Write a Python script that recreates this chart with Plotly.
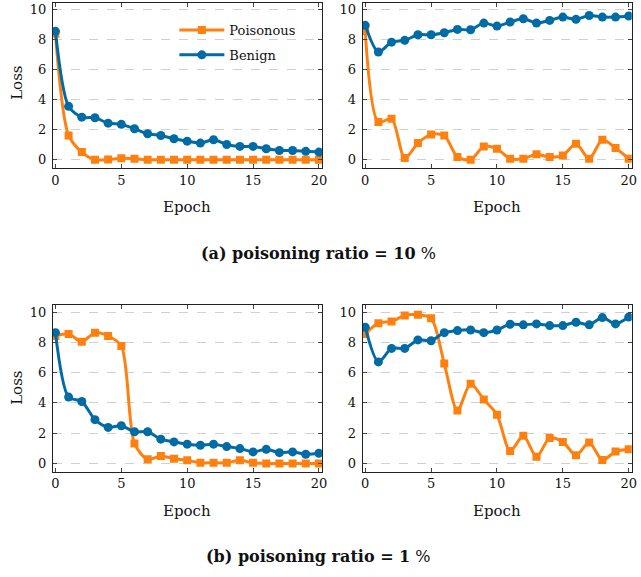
import plotly.graph_objects as go

epochs = list(range(21))

# (a) poisoning ratio = 10 %
a_left_poison = [8.4, 1.62, 0.51, 0.0, 0.02, 0.1, 0.07, 0, 0, 0, 0, 0, 0, 0, 0, 0, 0, 0, 0, 0, 0]
a_left_benign = [8.56, 3.56, 2.84, 2.8, 2.44, 2.36, 2.07, 1.73, 1.62, 1.4, 1.24, 1.11, 1.33, 1.02, 0.89, 0.89, 0.73, 0.62, 0.62, 0.56, 0.51]
a_right_poison = [8.58, 2.51, 2.73, 0.11, 1.11, 1.69, 1.62, 0.18, 0.0, 0.89, 0.73, 0.07, 0.07, 0.36, 0.18, 0.29, 1.07, 0.07, 1.33, 0.78, 0.07]
a_right_benign = [8.96, 7.18, 7.84, 7.96, 8.33, 8.33, 8.47, 8.69, 8.67, 9.11, 8.91, 9.18, 9.4, 9.11, 9.29, 9.51, 9.36, 9.62, 9.51, 9.51, 9.58]

# (b) poisoning ratio = 1 %
b_left_poison = [8.42, 8.56, 8.04, 8.64, 8.42, 7.76, 1.31, 0.27, 0.49, 0.31, 0.2, 0.04, 0.04, 0.04, 0.2, 0.04, 0.0, 0.0, 0.0, 0.0, 0.0]
b_left_benign = [8.64, 4.38, 4.09, 2.89, 2.38, 2.49, 2.09, 2.09, 1.6, 1.42, 1.27, 1.2, 1.27, 1.11, 0.98, 0.76, 0.93, 0.71, 0.76, 0.6, 0.67]
b_right_poison = [8.56, 9.27, 9.38, 9.78, 9.82, 9.6, 6.6, 3.49, 5.27, 4.22, 3.22, 0.82, 1.82, 0.44, 1.67, 1.42, 0.53, 1.38, 0.22, 0.78, 0.93]
b_right_benign = [9.0, 6.71, 7.6, 7.6, 8.16, 8.11, 8.64, 8.78, 8.82, 8.64, 8.82, 9.2, 9.16, 9.22, 9.11, 9.11, 9.33, 9.16, 9.64, 9.22, 9.67]

x_ticks = [0, 5, 10, 15, 20]
y_ticks = [0, 2, 4, 6, 8, 10]
series_names = ["Poisonous", "Benign"]
captions = ["<b>(a) poisoning ratio = 10</b> %", "<b>(b) poisoning ratio = 1</b> %"]

ORANGE = "#FF800E"
BLUE = "#006BA4"
W, H = 641, 577
FONT = "DejaVu Serif"

panels = [
    (a_left_poison, a_left_benign, "x", "y", True),
    (a_right_poison, a_right_benign, "x2", "y2", False),
    (b_left_poison, b_left_benign, "x3", "y3", False),
    (b_right_poison, b_right_benign, "x4", "y4", False),
]

fig = go.Figure()
for poison, benign, xa, ya, show in panels:
    fig.add_trace(go.Scatter(
        x=epochs, y=poison, xaxis=xa, yaxis=ya, name=series_names[0],
        mode="lines+markers", line=dict(color=ORANGE, width=3, shape="spline", smoothing=0.8),
        marker=dict(symbol="square", size=8, color=ORANGE),
        showlegend=show, legendgroup="p"))
    fig.add_trace(go.Scatter(
        x=epochs, y=benign, xaxis=xa, yaxis=ya, name=series_names[1],
        mode="lines+markers", line=dict(color=BLUE, width=3, shape="spline", smoothing=0.8),
        marker=dict(symbol="circle", size=9, color=BLUE),
        showlegend=show, legendgroup="b"))

def px_x(a, b):
    return [a / W, b / W]

def px_y(top, bottom):
    return [1 - bottom / H, 1 - top / H]

xdoms = [px_x(52.3, 324.0), px_x(365.0, 636.7), px_x(52.3, 324.0), px_x(365.0, 636.7)]
ydoms = [px_y(2.7, 168.0), px_y(2.7, 168.0), px_y(305.0, 471.7), px_y(305.0, 471.7)]

axis_common = dict(
    showline=True, linecolor="#222", linewidth=1, mirror="ticks",
    ticks="inside", ticklen=4, tickcolor="#444", tickwidth=1,
    tickfont=dict(family=FONT, size=13, color="#111"), zeroline=False,
)
layout = dict(
    width=W, height=H, margin=dict(l=0, r=0, t=0, b=0),
    paper_bgcolor="white", plot_bgcolor="white",
    font=dict(family=FONT, color="#111"),
    legend=dict(x=175 / W, y=1 - 15 / H, xanchor="left", yanchor="top",
                bgcolor="rgba(0,0,0,0)", font=dict(family=FONT, size=13),
                tracegroupgap=5, traceorder="grouped", itemwidth=45),
)
for i in range(4):
    sfx = "" if i == 0 else str(i + 1)
    layout["xaxis" + sfx] = dict(axis_common, domain=xdoms[i], range=[-0.2, 20.23],
                                 tickvals=x_ticks, showgrid=False,
                                 anchor="y" + sfx)
    layout["yaxis" + sfx] = dict(axis_common, domain=ydoms[i], range=[-0.55, 10.47],
                                 tickvals=y_ticks, showgrid=True, gridcolor="#d0d0d0",
                                 griddash="dash", gridwidth=1, anchor="x" + sfx,
                                 ticklabelstandoff=3)
fig.update_layout(**layout)

ann = []
for cx, cy in [(188, 207), (501, 207), (188, 511), (501, 511)]:
    ann.append(dict(text="Epoch", x=cx / W, y=1 - cy / H, xref="paper", yref="paper",
                    showarrow=False, font=dict(family=FONT, size=15), xanchor="center", yanchor="middle"))
for cy in [83, 388]:
    ann.append(dict(text="Loss", x=16 / W, y=1 - cy / H, xref="paper", yref="paper", textangle=-90,
                    showarrow=False, font=dict(family=FONT, size=15), xanchor="center", yanchor="middle"))
for cap, cy in zip(captions, [253, 556]):
    ann.append(dict(text=cap, x=320 / W, y=1 - cy / H, xref="paper", yref="paper",
                    showarrow=False, font=dict(family=FONT, size=16), xanchor="center", yanchor="middle"))
fig.update_layout(annotations=ann)

fig.write_html("out.html", config={"displayModeBar": False},
               post_script="document.body.style.margin='0';document.body.style.overflow='hidden';")
